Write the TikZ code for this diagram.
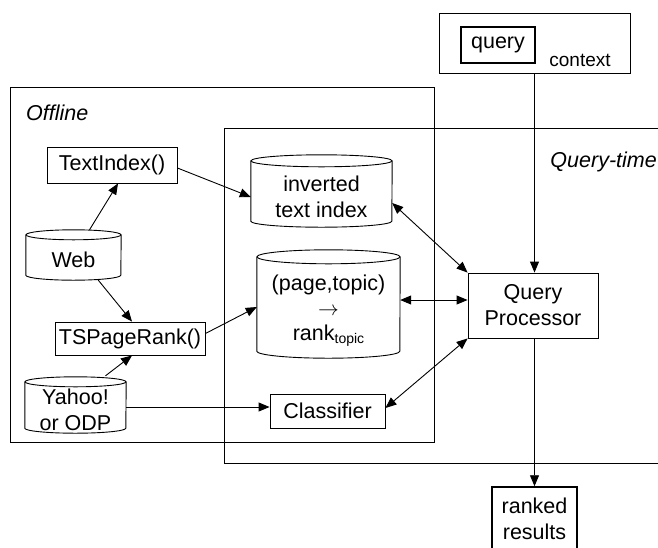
\documentclass[tikz,border=0pt]{standalone}
\usepackage{fontspec}
\setmainfont{Liberation Sans}
\usetikzlibrary{arrows.meta}
\newcommand\cylout[3]{%
  \draw[cylline] ([yshift=#3pt]#1.north) ellipse [x radius=#2pt, y radius=#3pt];
  \draw[cylline] ([yshift=#3pt]#1.north west) -- ([yshift=#3pt]#1.south west)
     arc[start angle=180, end angle=360, x radius=#2pt, y radius=#3pt]
     -- ([yshift=#3pt]#1.north east);
}
\begin{document}
\begin{tikzpicture}[x=1pt,y=-1pt,
  every node/.style={font=\fontsize{21.5}{26}\selectfont, inner sep=0pt, align=center},
  pbox/.style={draw, rectangle, line width=0.9pt},
  grp/.style={draw, rectangle, line width=0.9pt},
  cylbody/.style={draw=none, rectangle},
  cylline/.style={line width=0.9pt},
  lbl/.style={font=\fontsize{21.5}{26}\selectfont\itshape},
  arr/.style={line width=0.9pt, -{Triangle[length=11pt,width=9pt]}},
  darr/.style={line width=0.9pt, {Triangle[length=11pt,width=9pt]}-{Triangle[length=11pt,width=9pt]}}]
\useasboundingbox (0,0) rectangle (658,547);
\clip (0,0) rectangle (658,547);
\fill[white] (0,0) rectangle (658,547);

% group boxes
\node[grp, minimum width=424pt, minimum height=355pt] (off) at (222,264.5) {};
\node[grp, minimum width=456pt, minimum height=335pt] (qt) at (452,295.5) {};
\node[lbl, anchor=west] (offl) at (26,113) {Offline};
\node[lbl, anchor=east] (qtl) at (657,162) {Query-time};

% query context
\node[pbox, minimum width=191pt, minimum height=60pt] (ctx) at (534.5,43) {};
\node[draw, line width=2pt, minimum width=74pt, minimum height=36pt] (query) at (498,45) {query};
\node[font=\fontsize{19}{22}\selectfont] (ctxl) at (580,60) {context};

% boxes
\node[pbox, minimum width=130pt, minimum height=36pt] (tix) at (112,165) {TextIndex()};
\node[pbox, minimum width=150pt, minimum height=33pt] (tsp) at (130,338.5) {TSPageRank()};
\node[pbox, minimum width=115pt, minimum height=34pt] (cls) at (327.5,411) {Classifier};
\node[pbox, minimum width=130pt, minimum height=65pt] (qp) at (533,305.5) {Query\\Processor};
\node[draw, line width=1.5pt, minimum width=85pt, minimum height=63pt] (rr) at (534.5,518.5) {ranked\\results};

% cylinders
\node[cylbody, minimum width=141pt, minimum height=60pt] (inv) at (321.5,197) {inverted\\text index};
\node[cylbody, minimum width=143pt, minimum height=94pt] (ptr) at (328.5,311)
  {(page,topic)\\[-1pt]$\rightarrow$\\[-1pt]rank{\fontsize{14}{14}\selectfont\raisebox{-3pt}{topic}}};
\node[cylbody, minimum width=95pt, minimum height=40pt] (web) at (73.5,260) {Web};
\node[cylbody, minimum width=101pt, minimum height=46pt] (yahoo) at (75.5,410) {Yahoo!\\or ODP};
\cylout{inv}{70.5}{6}
\cylout{ptr}{71.5}{7}
\cylout{web}{47.5}{5}
\cylout{yahoo}{50.5}{5}

% connectors
\draw[arr] ([xshift=16pt,yshift=10pt]web.north) -- ([xshift=6pt]tix.south);
\draw[arr] ([yshift=-3pt]tix.east) -- (inv.west);
\draw[arr] ([xshift=24pt,yshift=1pt]web.south) -- ([xshift=2pt]tsp.north);
\draw[arr] ([xshift=30pt,yshift=11pt]yahoo.north) -- ([xshift=2pt]tsp.south);
\draw[arr] ([yshift=5pt]tsp.east) -- ([yshift=4pt]ptr.west);
\draw[arr] ([yshift=3pt]yahoo.east) -- ([yshift=4pt]cls.west);
\draw[darr] ([yshift=-6pt]inv.east) -- (qp.north west);
\draw[darr] ([yshift=11pt]ptr.east) -- ([yshift=5.5pt]qp.west);
\draw[darr] ([yshift=3pt]cls.east) -- (qp.south west);
\draw[arr] (ctx.south) -- (ctx.south |- qp.north);
\draw[arr] (qp.south -| rr.north) -- (rr.north);
\end{tikzpicture}
\end{document}
